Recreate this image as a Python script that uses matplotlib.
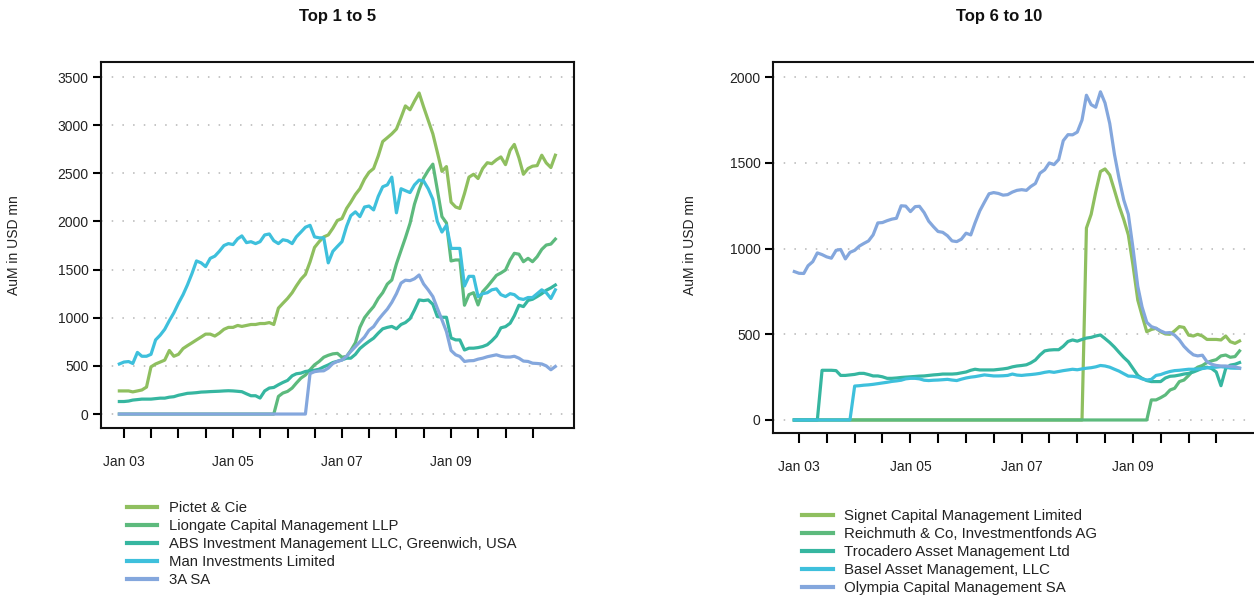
import matplotlib
matplotlib.use("Agg")
import matplotlib.pyplot as plt
import matplotlib.dates as mdates
import pandas as pd
import datetime as dt

plt.rcParams['font.family'] = ['Liberation Sans', 'DejaVu Sans']

dates = pd.date_range('2002-12-01', '2010-12-01', freq='MS')

# ---- Top 1 to 5 ----
pictet = [240, 240, 240, 230, 240, 250, 280,
          490, 520, 540, 560, 660, 600, 620,
          680, 710, 740, 770, 800, 830, 830,
          810, 840, 880, 900, 900, 920, 910,
          920, 930, 930, 940, 940, 950, 930,
          1100, 1150, 1200, 1260, 1330, 1400, 1450,
          1580, 1730, 1790, 1840, 1860, 1930, 2010,
          2030, 2135, 2200, 2280, 2340, 2440, 2510,
          2550, 2680, 2830, 2870, 2910, 2960, 3080,
          3200, 3160, 3250, 3334, 3190, 3050, 2910,
          2720, 2520, 2570, 2200, 2150, 2135, 2290,
          2460, 2490, 2446, 2550, 2610, 2600, 2640,
          2670, 2590, 2740, 2800, 2660, 2490, 2550,
          2574, 2580, 2688, 2608, 2560, 2688]
liongate = [0] * 35 + [
          183, 218, 235, 270, 321, 373, 405,
          460, 511, 546, 590, 610, 625, 630,
          590, 598, 660, 740, 900, 1000, 1060,
          1116, 1200, 1260, 1350, 1392, 1560, 1700,
          1830, 1980, 2180, 2330, 2450, 2530, 2595,
          2330, 2050, 1985, 1590, 1600, 1600, 1130,
          1240, 1260, 1133, 1270, 1323, 1380, 1440,
          1465, 1496, 1600, 1669, 1660, 1582, 1617,
          1582, 1634, 1710, 1755, 1765, 1817]
abs_inv = [130, 130, 135, 145, 150, 155, 155,
           155, 160, 165, 165, 175, 180, 195,
           205, 215, 218, 222, 228, 230, 233,
           235, 237, 240, 242, 240, 236, 232,
           210, 190, 190, 166, 240, 270, 276,
           304, 328, 349, 397, 418, 425, 442,
           449, 455, 466, 490, 510, 535, 548,
           563, 580, 580, 620, 680, 720, 755,
           788, 840, 885, 900, 910, 885, 930,
           950, 990, 1080, 1185, 1178, 1185, 1140,
           1012, 1005, 1005, 790, 770, 770, 665,
           684, 684, 690, 701, 720, 760, 810,
           895, 908, 943, 1020, 1130, 1116, 1180,
           1192, 1220, 1250, 1285, 1310, 1340]
man = [520, 540, 545, 525, 640, 600, 600,
       620, 770, 820, 880, 970, 1050, 1150,
       1240, 1340, 1460, 1590, 1570, 1531, 1617,
       1640, 1690, 1750, 1770, 1760, 1820, 1850,
       1780, 1790, 1770, 1790, 1860, 1870, 1800,
       1770, 1810, 1800, 1770, 1840, 1890, 1940,
       1960, 1840, 1830, 1830, 1570, 1690, 1740,
       1790, 1950, 2060, 2100, 2050, 2150, 2160,
       2120, 2260, 2360, 2380, 2460, 2090, 2340,
       2320, 2300, 2380, 2430, 2420, 2340, 2230,
       2000, 1890, 1960, 1720, 1720, 1720, 1330,
       1430, 1430, 1220, 1250, 1260, 1290, 1300,
       1240, 1220, 1250, 1240, 1200, 1190, 1210,
       1210, 1250, 1290, 1260, 1200, 1290]
three_a = [0] * 42 + [
       420, 440, 447, 449, 477, 525, 546,
       560, 600, 650, 700, 750, 800, 870,
       908, 978, 1035, 1090, 1160, 1250, 1360,
       1390, 1385, 1405, 1444, 1351, 1289, 1220,
       1099, 978, 857, 660, 615, 598, 546,
       553, 555, 570, 580, 595, 605, 615,
       600, 592, 592, 600, 580, 550, 546,
       528, 525, 520, 500, 460, 494]

# ---- Top 6 to 10 ----
signet = [0] * 63 + [
       1120, 1200, 1330, 1450, 1465, 1430, 1340,
       1250, 1170, 1080, 900, 700, 610, 515,
       528, 535, 515, 502, 500, 520, 545,
       540, 495, 490, 500, 490, 470, 470,
       470, 467, 490, 457, 447, 461]
reichmuth = [0] * 77 + [
       117, 117, 130, 146, 175, 185, 224,
       233, 260, 290, 308, 318, 335, 345,
       352, 374, 379, 366, 370, 403]
trocadero = [0, 0, 0, 0, 0, 0, 290,
       290, 290, 288, 260, 260, 263, 266,
       272, 272, 265, 257, 257, 252, 243,
       243, 245, 248, 250, 252, 254, 256,
       257, 260, 263, 265, 268, 268, 268,
       270, 275, 280, 290, 296, 292, 292,
       292, 292, 295, 298, 302, 310, 315,
       318, 322, 333, 350, 379, 403, 408,
       410, 410, 430, 458, 467, 460, 470,
       478, 482, 490, 496, 475, 452, 425,
       395, 365, 340, 300, 260, 243, 230,
       224, 224, 224, 245, 255, 257, 262,
       268, 272, 280, 290, 302, 308, 300,
       280, 200, 300, 320, 325, 335]
basel = [0] * 13 + [
       198, 200, 203, 205, 208, 212, 216,
       220, 225, 228, 232, 240, 243, 243,
       240, 232, 230, 232, 233, 235, 237,
       233, 230, 238, 245, 250, 253, 258,
       263, 260, 257, 257, 258, 260, 268,
       262, 260, 263, 265, 268, 272, 278,
       282, 278, 283, 288, 292, 296, 293,
       298, 302, 305, 310, 318, 315, 308,
       296, 285, 270, 256, 255, 250, 240,
       233, 237, 260, 265, 275, 283, 288,
       290, 293, 296, 296, 298, 300, 304,
       307, 308, 311, 308, 303, 302, 302]
olympia = [866, 856, 855, 900, 924, 975, 965,
       952, 944, 990, 995, 940, 978, 990,
       1015, 1030, 1045, 1080, 1150, 1152, 1163,
       1172, 1177, 1250, 1248, 1216, 1245, 1247,
       1210, 1160, 1128, 1100, 1095, 1075, 1045,
       1041, 1055, 1090, 1080, 1150, 1220, 1270,
       1320, 1327, 1322, 1312, 1315, 1330, 1340,
       1344, 1340, 1362, 1380, 1440, 1460, 1500,
       1490, 1520, 1630, 1665, 1664, 1680, 1750,
       1895, 1840, 1825, 1915, 1850, 1730, 1550,
       1410, 1284, 1200, 1000, 780, 660, 570,
       545, 535, 520, 508, 510, 495, 467,
       430, 402, 380, 374, 378, 340, 325,
       318, 315, 315, 312, 311, 302]

left_names = ['Pictet & Cie', 'Liongate Capital Management LLP',
              'ABS Investment Management LLC, Greenwich, USA',
              'Man Investments Limited', '3A SA']
right_names = ['Signet Capital Management Limited',
               'Reichmuth & Co, Investmentfonds AG',
               'Trocadero Asset Management Ltd',
               'Basel Asset Management, LLC',
               'Olympia Capital Management SA']
left_series = [pictet, liongate, abs_inv, man, three_a]
right_series = [signet, reichmuth, trocadero, basel, olympia]
for s in left_series + right_series:
    assert len(s) == len(dates), len(s)

colors = ['#8fbf5f', '#5dba7d', '#36b6a0', '#3ec0dc', '#84a7dd']

W, H = 1254, 599
fig = plt.figure(figsize=(W / 100, H / 100), dpi=100)
axL = fig.add_axes([101 / W, 1 - 428 / H, 473 / W, 366 / H])
axR = fig.add_axes([773 / W, 1 - 433 / H, 485 / W, 371 / H])

jan03 = mdates.date2num(dt.datetime(2003, 1, 1))
tick_dates = pd.date_range('2003-01-01', '2010-07-01', freq='6MS')


def style(ax, series, names, ylim, xlim, yticks):
    for vals, c, n in zip(series, colors, names):
        ax.plot(dates, vals, color=c, lw=2.3, label=n, solid_joinstyle='round')
    ax.set_ylim(*ylim)
    ax.set_xlim(jan03 + xlim[0], jan03 + xlim[1])
    ax.set_yticks(yticks)
    ax.set_yticklabels([str(v) for v in yticks])
    ax.set_xticks(tick_dates)
    labs = []
    for d in tick_dates:
        if d.month == 1 and d.year % 2 == 1:
            labs.append('Jan %02d' % (d.year % 100))
        else:
            labs.append('')
    ax.set_xticklabels(labs)
    for y in yticks:
        ax.axhline(y, color='#b5b5b5', lw=1.1, ls=(0, (1, 6)), zorder=0)
    for sp in ax.spines.values():
        sp.set_linewidth(1.5)
        sp.set_color('#111111')
    ax.tick_params(axis='y', direction='out', length=6, width=1.5,
                   pad=3, labelsize=10, labelcolor='#222222')
    ax.tick_params(axis='x', direction='out', length=7.5, width=1.5,
                   pad=12, labelsize=10, labelcolor='#222222')


style(axL, left_series, left_names, (-145, 3656), (-154, 3016),
      [0, 500, 1000, 1500, 2000, 2500, 3000, 3500])
style(axR, right_series, right_names, (-76, 2089), (-171, 3012),
      [0, 500, 1000, 1500, 2000])

fig.text(338 / W, 1 - 17 / H, 'Top 1 to 5', ha='center', va='center',
         fontsize=12, fontweight='bold', color='#111111')
fig.text(999 / W, 1 - 17 / H, 'Top 6 to 10', ha='center', va='center',
         fontsize=12, fontweight='bold', color='#111111')
fig.text(14 / W, 1 - 245 / H, 'AuM in USD mn', rotation=90, ha='center',
         va='center', fontsize=10, color='#222222')
fig.text(690 / W, 1 - 245 / H, 'AuM in USD mn', rotation=90, ha='center',
         va='center', fontsize=10, color='#222222')

for ax, x0, y0, fs in [(axL, 127, 501, 10.7), (axR, 802, 509, 10.8)]:
    h, l = ax.get_legend_handles_labels()
    leg = fig.legend(h, l, loc='upper left', bbox_to_anchor=(x0 / W, 1 - y0 / H),
                     frameon=False, fontsize=fs, borderpad=0, borderaxespad=0,
                     handlelength=2.05, handletextpad=0.75, labelspacing=0.27)
    for ln in leg.get_lines():
        ln.set_linewidth(3)
    for t in leg.get_texts():
        t.set_color('#222222')

fig.savefig('out.png', dpi=100)
